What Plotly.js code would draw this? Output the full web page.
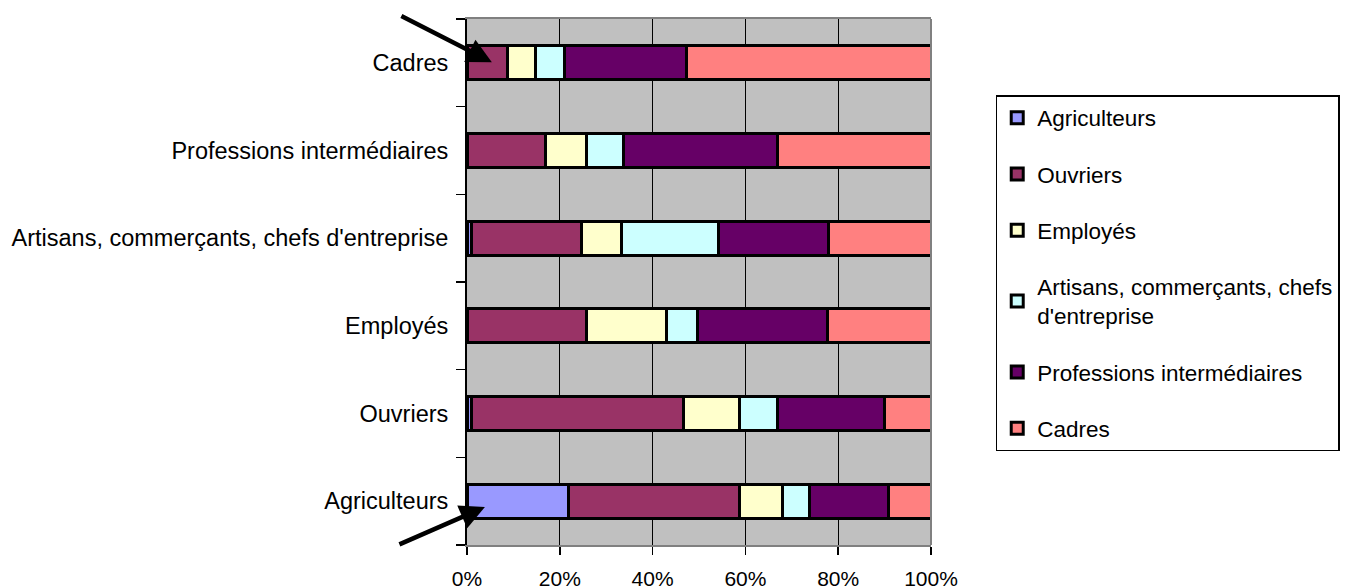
<!DOCTYPE html>
<html>
<head>
<meta charset="utf-8">
<script src="https://cdn.plot.ly/plotly-3.0.1.min.js"></script>
<style>html,body{margin:0;padding:0;background:#fff;}#chart{width:1352px;height:587px;}</style>
</head>
<body>
<div id="chart"></div>
<script>
// Categories (y axis, bottom to top)
const categories = ["Agriculteurs", "Ouvriers", "Employés", "Artisans, commerçants, chefs d'entreprise", "Professions intermédiaires", "Cadres"];
// Series names (legend)
const seriesNames = ["Agriculteurs", "Ouvriers", "Employés", "Artisans, commerçants, chefs<br>d'entreprise", "Professions intermédiaires", "Cadres"];
// Series values (%), one per category above
const agriculteurs = [21.8, 0.9, 0.2, 0.9, 0.2, 0.2];
const ouvriers      = [36.9, 45.8, 25.6, 23.7, 16.7, 8.6];
const employes      = [9.2, 12.1, 17.1, 8.8, 8.9, 6.0];
const artisans      = [5.9, 8.1, 6.8, 20.8, 7.9, 6.2];
const profInter     = [17.0, 23.0, 28.1, 23.8, 33.2, 26.2];
const cadres        = [9.2, 10.1, 22.2, 22.0, 33.1, 52.8];
const xTicks = [0, 20, 40, 60, 80, 100];

const colors = ["#9999FF", "#993366", "#FFFFCC", "#CCFFFF", "#660066", "#FF8080"];
const allSeries = [agriculteurs, ouvriers, employes, artisans, profInter, cadres];

const fontFam = "Liberation Sans, Arial, sans-serif";

const traces = allSeries.map((vals, i) => ({
  type: "bar",
  orientation: "h",
  name: seriesNames[i],
  legendgroup: "g" + i,
  y: categories,
  x: vals,
  width: 0.39,
  marker: {color: colors[i], line: {color: "#000", width: 3}},
  hoverinfo: "x+name"
}));

const layout = {
  width: 1352, height: 587,
  margin: {l: 467, r: 419, t: 19, b: 42, pad: 0},
  paper_bgcolor: "#fff",
  plot_bgcolor: "#C0C0C0",
  barmode: "stack",
  font: {family: fontFam, size: 23.5, color: "#000"},
  xaxis: {
    range: [0, 100], tickvals: xTicks, ticktext: xTicks.map(v => v + "%"),
    showgrid: true, gridcolor: "#000", gridwidth: 1,
    showline: true, linecolor: "#808080", linewidth: 2, mirror: true,
    ticks: "outside", ticklen: 8, tickcolor: "#000", tickwidth: 1.5,
    tickfont: {size: 21}, ticklabelstandoff: 6,
    zeroline: false, fixedrange: true, automargin: false
  },
  yaxis: {
    type: "category", categoryorder: "array", categoryarray: categories,
    tickson: "boundaries", ticks: "outside", ticklen: 9, tickcolor: "#000", tickwidth: 1.5,
    showline: true, linecolor: "#000", linewidth: 2,
    showgrid: false, tickfont: {size: 23.5}, ticklabelstandoff: 12,
    fixedrange: true, automargin: false
  },
  showlegend: true,
  legend: {
    x: 1.1395, xanchor: "left", y: 0.8555, yanchor: "top",
    traceorder: "grouped", tracegroupgap: 24,
    bordercolor: "#000", borderwidth: 1.5, bgcolor: "#fff",
    font: {size: 22.5, family: fontFam}
  },
  shapes: [
    {type: "line", xref: "paper", yref: "paper", x0: 1, x1: 1, y0: 0, y1: 1, line: {color: "#808080", width: 2}}
  ],
  annotations: [
    {xref: "paper", yref: "paper", x: 0.0536, y: 0.918, ax: -92, ay: -47, showarrow: true,
     arrowhead: 2, arrowsize: 1.1, arrowwidth: 4.5, arrowcolor: "#000", text: ""},
    {xref: "paper", yref: "paper", x: 0.0386, y: 0.0722, ax: -87, ay: 38, showarrow: true,
     arrowhead: 2, arrowsize: 1.1, arrowwidth: 4.5, arrowcolor: "#000", text: ""}
  ]
};

Plotly.newPlot("chart", traces, layout, {displayModeBar: false, staticPlot: true});
</script>
</body>
</html>
